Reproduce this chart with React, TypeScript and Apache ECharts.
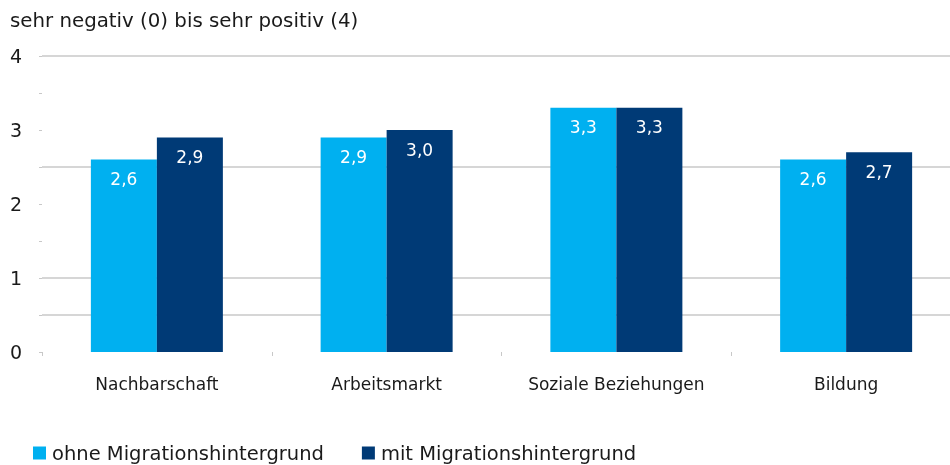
import React, { useEffect, useRef } from "react";
import * as echarts from "echarts";

const categories = ["Nachbarschaft", "Arbeitsmarkt", "Soziale Beziehungen", "Bildung"];
const seriesNames = ["ohne Migrationshintergrund", "mit Migrationshintergrund"];
const ohneValues = [2.6, 2.9, 3.3, 2.6];
const mitValues = [2.9, 3.0, 3.3, 2.7];
const gridLineValues = [4, 2.5, 1, 0.5];
const title = "sehr negativ (0) bis sehr positiv (4)";

const FONT = "DejaVu Sans";

export default function App() {
  const ref = useRef<HTMLDivElement>(null);
  useEffect(() => {
    document.body.style.overflow = "hidden";
    const chart = echarts.init(ref.current!, null, { renderer: "svg" });
    const fmt = (p: any) => Number(p.value).toFixed(1).replace(".", ",");
    chart.setOption({
      animation: false,
      textStyle: { fontFamily: FONT },
      title: {
        text: title,
        left: 5,
        top: 5,
        textStyle: { fontFamily: FONT, fontSize: 19.8, fontWeight: "normal", color: "#1a1a1a" },
      },
      legend: {
        left: 33,
        bottom: 2,
        padding: 0,
        itemWidth: 13,
        itemHeight: 13,
        itemGap: 38,
        icon: "rect",
        textStyle: { fontFamily: FONT, fontSize: 19.5, color: "#1a1a1a", padding: [0, 0, 0, 1] },
        data: seriesNames,
      },
      grid: { left: 42, right: 9, top: 56, bottom: 113, containLabel: false },
      xAxis: {
        type: "category",
        data: categories,
        axisLine: { show: false },
        axisTick: { show: true, length: 4, lineStyle: { color: "#c8c8c8", width: 1 } },
        axisLabel: { fontFamily: FONT, fontSize: 17, color: "#1a1a1a", margin: 23 },
      },
      yAxis: {
        type: "value",
        min: 0,
        max: 4,
        interval: 0.5,
        axisLine: { show: false },
        axisTick: { show: true, length: 3, lineStyle: { color: "#c8c8c8", width: 1 } },
        splitLine: { show: false },
        axisLabel: {
          fontFamily: FONT,
          fontSize: 19,
          color: "#1a1a1a",
          margin: 20,
          formatter: (v: number) => (Number.isInteger(v) ? String(v) : ""),
        },
      },
      series: [
        {
          name: seriesNames[0],
          type: "bar",
          data: ohneValues,
          barWidth: 66,
          barGap: "0%",
          z: 2,
          itemStyle: { color: "#00b0f0" },
          label: {
            show: true,
            position: "insideTop",
            distance: 11,
            color: "#ffffff",
            fontFamily: FONT,
            fontSize: 17,
            formatter: fmt,
          },
          markLine: {
            silent: true,
            z: 1,
            symbol: "none",
            label: { show: false },
            lineStyle: { color: "#d6d6d6", width: 2, type: "solid" },
            data: gridLineValues.map((v) => ({ yAxis: v })),
          },
        },
        {
          name: seriesNames[1],
          type: "bar",
          data: mitValues,
          barWidth: 66,
          barGap: "0%",
          z: 2,
          itemStyle: { color: "#003a76" },
          label: {
            show: true,
            position: "insideTop",
            distance: 11,
            color: "#ffffff",
            fontFamily: FONT,
            fontSize: 17,
            formatter: fmt,
          },
        },
      ],
    });
    return () => chart.dispose();
  }, []);
  return (
    <div
      ref={ref}
      style={{ position: "fixed", left: 0, top: 0, width: 970, height: 465 }}
    />
  );
}
